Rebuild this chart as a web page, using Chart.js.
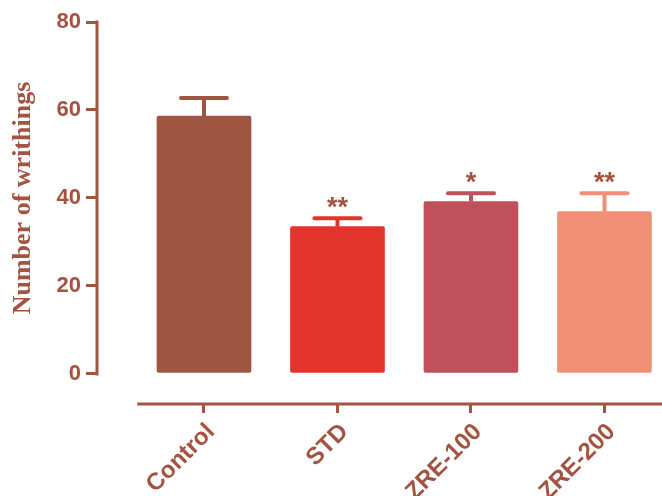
<!DOCTYPE html>
<html>
<head>
<meta charset="utf-8">
<script src="https://cdn.jsdelivr.net/npm/chart.js@4"></script>
<style>
  html, body { margin: 0; padding: 0; background: #ffffff; }
  #wrap { width: 662px; height: 496px; }
</style>
</head>
<body>
<div id="wrap"><canvas id="chart" width="662" height="496"></canvas></div>
<script>
// Writhing counts per treatment group (mean ± SEM)
const groups = ['Control', 'STD', 'ZRE-100', 'ZRE-200'];
const writhings = [58.6, 33.5, 39.2, 36.9];
const sem = [4.1, 1.9, 1.9, 4.2];
const significance = ['', '**', '*', '**'];
const yTickValues = [0, 20, 40, 60, 80];
const yTitle = 'Number of writhings';

const barColors = ['#9e5642', '#e2332c', '#c0505a', '#f29075'];
const axisColor = '#a3533f';

// Axis lines, error bars and significance marks
const decorations = {
  id: 'decorations',
  afterDatasetsDraw(chart) {
    const ctx = chart.ctx;
    const y = chart.scales.y;
    const x = chart.scales.x;
    const area = chart.chartArea;
    ctx.save();
    // y axis line spanning the tick range
    ctx.strokeStyle = axisColor;
    ctx.lineWidth = 3;
    ctx.beginPath();
    ctx.moveTo(area.left - 1, y.getPixelForValue(yTickValues[yTickValues.length - 1]) - 1.5);
    ctx.lineTo(area.left - 1, y.getPixelForValue(0) + 1.5);
    ctx.stroke();
    // x axis line, starting half a category left of the first group
    ctx.beginPath();
    ctx.moveTo(x.getPixelForValue(-0.5), area.bottom);
    ctx.lineTo(area.right, area.bottom);
    ctx.stroke();

    // error bars (upper half only) and stars
    const meta = chart.getDatasetMeta(0);
    meta.data.forEach((bar, i) => {
      const top = y.getPixelForValue(writhings[i] + sem[i]);
      ctx.strokeStyle = barColors[i];
      ctx.lineWidth = 4;
      ctx.lineCap = 'butt';
      ctx.beginPath();
      ctx.moveTo(bar.x, bar.y);
      ctx.lineTo(bar.x, top);
      ctx.stroke();
      ctx.lineCap = 'round';
      ctx.beginPath();
      ctx.moveTo(bar.x - 23, top);
      ctx.lineTo(bar.x + 23, top);
      ctx.stroke();
      if (significance[i]) {
        ctx.fillStyle = axisColor;
        ctx.font = 'bold 27px "Liberation Sans", Arial, sans-serif';
        ctx.textAlign = 'center';
        ctx.textBaseline = 'alphabetic';
        ctx.fillText(significance[i], bar.x, top - 2);
      }
    });

    // y axis title, centred on the tick range
    const mid = (y.getPixelForValue(0) + y.getPixelForValue(yTickValues[yTickValues.length - 1])) / 2;
    ctx.translate(23, mid);
    ctx.rotate(-Math.PI / 2);
    ctx.fillStyle = axisColor;
    ctx.font = 'bold 26px "Liberation Serif", "Times New Roman", serif';
    ctx.textAlign = 'center';
    ctx.textBaseline = 'middle';
    ctx.fillText(yTitle, 0, 0);
    ctx.restore();
  }
};

new Chart(document.getElementById('chart'), {
  type: 'bar',
  data: {
    datasets: [{
      data: writhings.map((v, i) => ({ x: i, y: v })),
      backgroundColor: barColors,
      borderWidth: 0,
      borderRadius: 2,
      borderSkipped: false,
      barThickness: 94
    }]
  },
  options: {
    responsive: false,
    animation: false,
    layout: { padding: { top: 22, right: 0, left: 0, bottom: 0 } },
    plugins: { legend: { display: false }, tooltip: { enabled: false } },
    scales: {
      x: {
        type: 'linear',
        position: 'bottom',
        offset: false,
        min: -0.794,
        max: 3.431,
        afterBuildTicks(scale) { scale.ticks = groups.map((g, i) => ({ value: i })); },
        afterFit(scale) { scale.height = 92; },
        border: { display: false },
        grid: {
          offset: false,
          drawOnChartArea: false,
          drawTicks: true,
          tickLength: 9,
          lineWidth: 3,
          color: axisColor
        },
        ticks: {
          autoSkip: false,
          minRotation: 45,
          maxRotation: 45,
          padding: 5,
          labelOffset: 7,
          color: axisColor,
          font: { family: '"Liberation Sans", Arial, sans-serif', size: 24, weight: 'bold' },
          callback: (v) => groups[v]
        }
      },
      y: {
        type: 'linear',
        min: -6.82,
        max: 80,
        afterBuildTicks(scale) { scale.ticks = yTickValues.map(v => ({ value: v })); },
        afterFit(scale) { scale.width = 98; },
        border: { display: false },
        grid: {
          drawOnChartArea: false,
          drawTicks: true,
          tickLength: 12,
          lineWidth: 3,
          color: axisColor
        },
        ticks: {
          padding: 5,
          color: axisColor,
          font: { family: '"Liberation Sans", Arial, sans-serif', size: 22, weight: 'bold' }
        }
      }
    }
  },
  plugins: [decorations]
});
</script>
</body>
</html>
